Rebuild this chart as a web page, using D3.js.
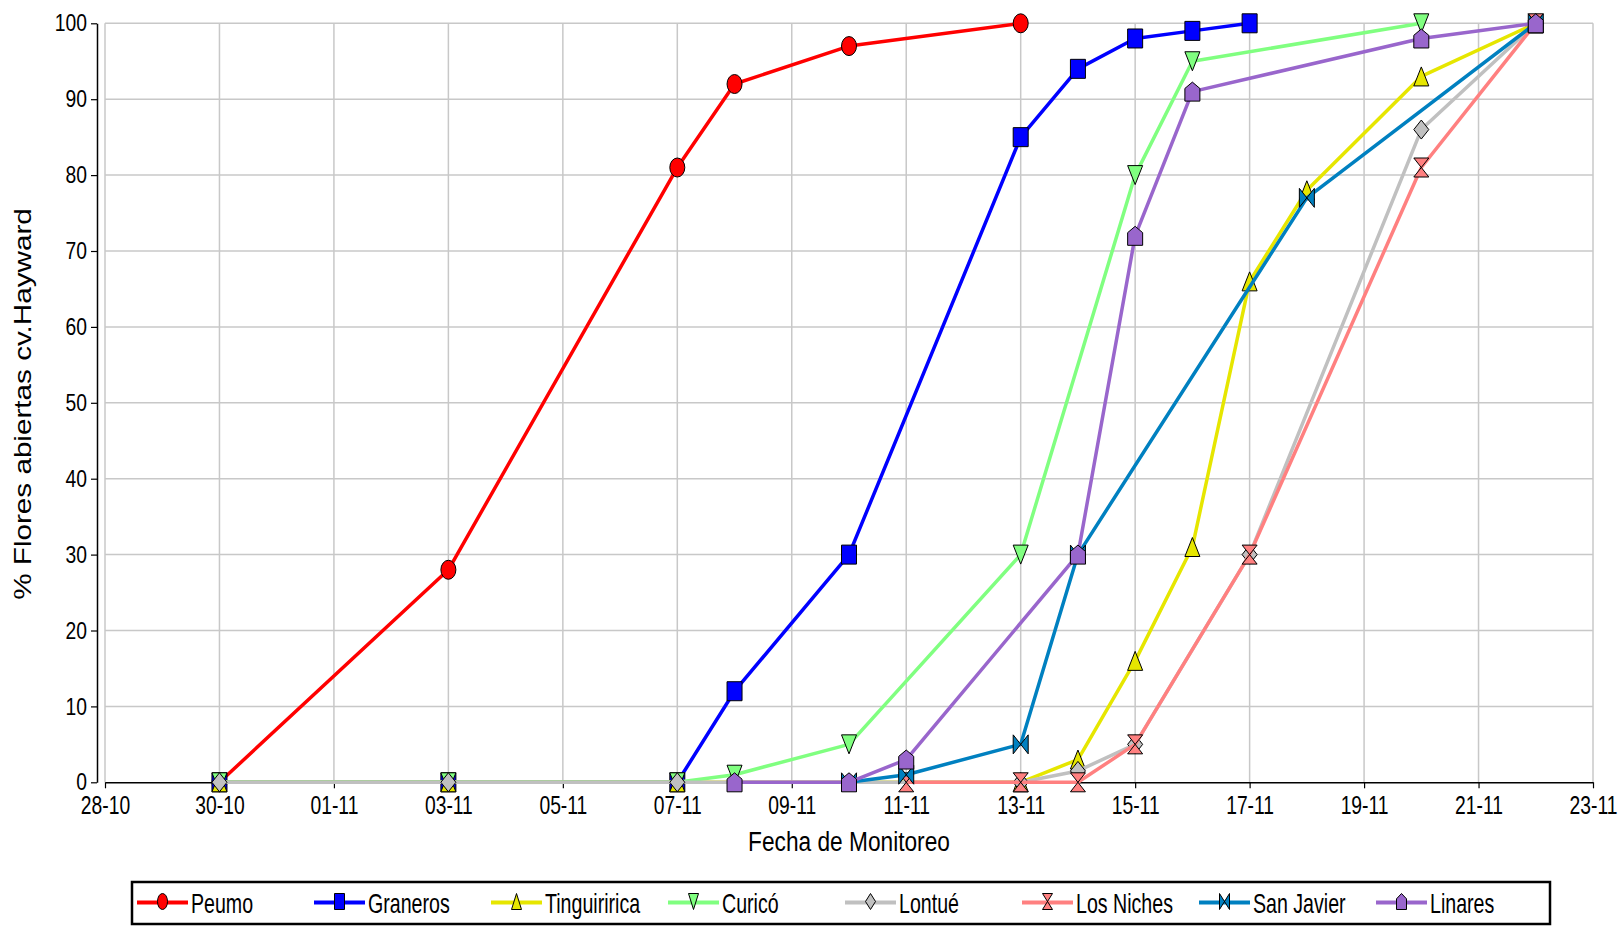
<!DOCTYPE html>
<html>
<head>
<meta charset="utf-8">
<script src="https://cdn.jsdelivr.net/npm/d3@7"></script>
<style>
html,body{margin:0;padding:0;background:#fff;}
svg{display:block;}
text{font-family:"Liberation Sans",Arial,sans-serif;fill:#000;}
</style>
</head>
<body>
<svg id="chart" width="1621" height="926"></svg>
<script>
// ---------- DATA ----------
const seriesNames = ["Peumo","Graneros","Tinguiririca","Curicó","Lontué","Los Niches","San Javier","Linares"];
const seriesColors = ["#FF0000","#0000FF","#E6E600","#80FF80","#C0C0C0","#FF8080","#0080C0","#9966CC"];
const seriesMarkers = ["ellipse","square","triUp","triDown","diamond","hourglass","bowtie","house"];

const peumoDates = ["30-10","03-11","07-11","08-11","10-11","13-11"];
const peumoValues = [0,28,81,92,97,100];
const granerosDates = ["30-10","03-11","07-11","08-11","10-11","13-11","14-11","15-11","16-11","17-11"];
const granerosValues = [0,0,0,12,30,85,94,98,99,100];
const tinguiriricaDates = ["30-10","03-11","07-11","13-11","14-11","15-11","16-11","17-11","18-11","20-11","22-11"];
const tinguiriricaValues = [0,0,0,0,3,16,31,66,78,93,100];
const curicoDates = ["30-10","03-11","07-11","08-11","10-11","13-11","15-11","16-11","20-11"];
const curicoValues = [0,0,0,1,5,30,80,95,100];
const lontueDates = ["30-10","03-11","07-11","13-11","14-11","15-11","17-11","20-11","22-11"];
const lontueValues = [0,0,0,0,1.5,5,30,86,100];
const losNichesDates = ["11-11","13-11","14-11","15-11","17-11","20-11","22-11"];
const losNichesValues = [0,0,0,5,30,81,100];
const sanJavierDates = ["10-11","11-11","13-11","14-11","18-11","22-11"];
const sanJavierValues = [0,1,5,30,77,100];
const linaresDates = ["08-11","10-11","11-11","14-11","15-11","16-11","20-11","22-11"];
const linaresValues = [0,0,3,30,72,91,98,100];

const xTickLabels = ["28-10","30-10","01-11","03-11","05-11","07-11","09-11","11-11","13-11","15-11","17-11","19-11","21-11","23-11"];
const yTickValues = [0,10,20,30,40,50,60,70,80,90,100];

const xTitle = "Fecha de Monitoreo";
const yTitle = "% Flores abiertas cv.Hayward";

// ---------- HELPERS ----------
const YEAR = 2010;
function parseDM(s){ const [d,m] = s.split("-").map(Number); return new Date(YEAR, m-1, d); }

const allDates = [peumoDates,granerosDates,tinguiriricaDates,curicoDates,lontueDates,losNichesDates,sanJavierDates,linaresDates];
const allValues = [peumoValues,granerosValues,tinguiriricaValues,curicoValues,lontueValues,losNichesValues,sanJavierValues,linaresValues];
const series = seriesNames.map((n,i)=>({
  name:n, color:seriesColors[i], marker:seriesMarkers[i],
  points: allDates[i].map((d,j)=>({date:parseDM(d), value:allValues[i][j]}))
}));

function markerPath(type, w, h){
  const a = w/2, b = h/2;
  switch(type){
    case "square": return `M${-a},${-b}H${a}V${b}H${-a}Z`;
    case "triUp": return `M0,${-b}L${a},${b}L${-a},${b}Z`;
    case "triDown": return `M${-a},${-b}L${a},${-b}L0,${b}Z`;
    case "diamond": return `M0,${-b}L${a},0L0,${b}L${-a},0Z`;
    case "hourglass": return `M${-a},${-b}L${a},${-b}L${-a},${b}L${a},${b}Z`;
    case "bowtie": return `M${-a},${-b}L${a},${b}L${a},${-b}L${-a},${b}Z`;
    case "house": return `M${-a},${b}L${a},${b}L${a},${-b/3}L0,${-b}L${-a},${-b/3}Z`;
  }
  return "";
}
function drawMarker(g, type, cx, cy, w, h, color){
  if(type==="ellipse"){
    g.append("ellipse").attr("cx",cx).attr("cy",cy).attr("rx",w/2).attr("ry",h/2)
      .attr("fill",color).attr("stroke","#000").attr("stroke-width",1);
  } else {
    g.append("path").attr("d",markerPath(type,w,h)).attr("transform",`translate(${cx},${cy})`)
      .attr("fill",color).attr("stroke","#000").attr("stroke-width",1).attr("stroke-linejoin","miter");
  }
}

// ---------- SCALES ----------
const svg = d3.select("#chart");
const x0 = 105, x1 = 1593, yBottom = 782.3, yTop = 23.3;
const xTickDates = xTickLabels.map(parseDM);
const x = d3.scaleTime().domain([xTickDates[0], xTickDates[xTickDates.length-1]]).range([x0,x1]);
const y = d3.scaleLinear().domain([0,100]).range([yBottom,yTop]);

// ---------- GRID ----------
const grid = svg.append("g");
grid.selectAll("line.h").data(yTickValues.filter(v=>v>0)).enter().append("line")
  .attr("x1",x0).attr("x2",x1).attr("y1",d=>y(d)).attr("y2",d=>y(d))
  .attr("stroke","#C8C8C8").attr("stroke-width",1.5);
grid.selectAll("line.v").data(xTickDates).enter().append("line")
  .attr("x1",d=>x(d)).attr("x2",d=>x(d)).attr("y1",yTop).attr("y2",yBottom)
  .attr("stroke","#C8C8C8").attr("stroke-width",1.5);

// ---------- AXES ----------
const fmt = d3.timeFormat("%d-%m");
const xAxis = svg.append("g").attr("transform",`translate(0,${yBottom})`)
  .call(d3.axisBottom(x).tickValues(xTickDates).tickFormat(fmt).tickSize(6).tickSizeOuter(0));
xAxis.select(".domain").attr("stroke","#000").attr("stroke-width",1.5);
xAxis.selectAll(".tick line").attr("stroke","#000").attr("stroke-width",1.2);
xAxis.selectAll(".tick text").attr("y",0).attr("dy",null)
  .attr("transform","translate(0,32) scale(1,1.29)")
  .style("font-size","19.3px").attr("fill","#000");

const yAxis = svg.append("g").attr("transform",`translate(97,0)`)
  .call(d3.axisLeft(y).tickValues(yTickValues).tickSize(6).tickSizeOuter(0));
yAxis.select(".domain").attr("stroke","#000").attr("stroke-width",1.5);
yAxis.selectAll(".tick line").attr("stroke","#000").attr("stroke-width",1.2);
yAxis.selectAll(".tick text").attr("x",-10).attr("dy",null)
  .attr("transform","translate(0,7.6) scale(1,1.27)")
  .style("font-size","19.3px").attr("fill","#000");
svg.selectAll("g").attr("font-family",null).attr("font-size",null);

// ---------- TITLES ----------
svg.append("text").attr("transform","translate(849,851) scale(1,1.19)")
  .attr("text-anchor","middle").style("font-size","22.7px").text(xTitle);
svg.append("text").attr("transform","translate(31,404) rotate(-90) scale(1.29,1)")
  .attr("text-anchor","middle").style("font-size","23px").text(yTitle);

// ---------- SERIES ----------
const line = d3.line().x(d=>x(d.date)).y(d=>y(d.value));
series.forEach(s=>{
  const g = svg.append("g");
  g.append("path").datum(s.points).attr("d",line).attr("fill","none")
    .attr("stroke",s.color).attr("stroke-width",3.5).attr("stroke-linejoin","round");
  s.points.forEach(p=> drawMarker(g, s.marker, x(p.date), y(p.value), 15, 19, s.color));
});

// ---------- LEGEND ----------
const leg = svg.append("g");
leg.append("rect").attr("x",132).attr("y",882).attr("width",1418).attr("height",42)
  .attr("fill","#fff").attr("stroke","#000").attr("stroke-width",2.5);
series.forEach((s,i)=>{
  const lx = 137 + i*177;
  leg.append("line").attr("x1",lx).attr("x2",lx+51).attr("y1",902.5).attr("y2",902.5)
    .attr("stroke",s.color).attr("stroke-width",4);
  drawMarker(leg, s.marker, lx+25.5, 901.5, 10, 16, s.color);
  leg.append("text").attr("transform",`translate(${lx+54},912.5) scale(1,1.45)`)
    .style("font-size","19.6px").text(s.name);
});
</script>
</body>
</html>
